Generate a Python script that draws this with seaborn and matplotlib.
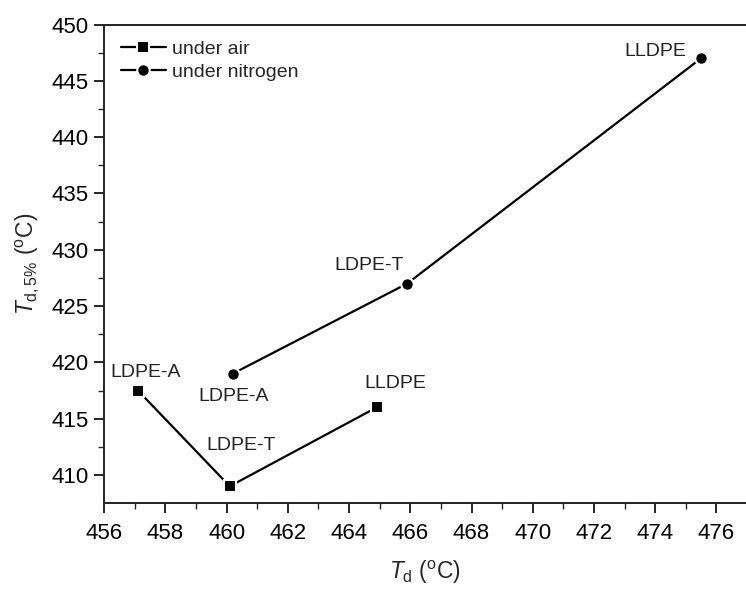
import matplotlib
matplotlib.use("Agg")
import matplotlib.pyplot as plt
import seaborn as sns
import pandas as pd
from matplotlib.ticker import MultipleLocator

samples = ["LDPE-A", "LDPE-T", "LLDPE"]
air_td = [457.1, 460.1, 464.9]
air_td5 = [417.5, 409.0, 416.0]
n2_td = [460.2, 465.9, 475.5]
n2_td5 = [419.0, 427.0, 447.0]

# label positions (data coords)
air_lbl_x = [457.36, 460.46, 465.5]
air_lbl_y = [419.14, 412.6, 418.16]
n2_lbl_x = [460.23, 464.65, 474.0]
n2_lbl_y = [416.95, 428.64, 447.58]

sns.set_theme(style="ticks")
plt.rcParams['font.family'] = ['Liberation Sans', 'DejaVu Sans']
plt.rcParams['mathtext.fontset'] = 'custom'
plt.rcParams['mathtext.rm'] = 'Liberation Sans'
plt.rcParams['mathtext.it'] = 'Liberation Sans:italic'

df = pd.DataFrame({
    "Td": air_td + n2_td,
    "Td5": air_td5 + n2_td5,
    "atm": ["under air"] * 3 + ["under nitrogen"] * 3,
})

fig = plt.figure(figsize=(7.46, 5.91), dpi=100)
ax = fig.add_axes([0.1398, 0.1494, 0.8602, 0.8091])

sns.lineplot(data=df[df.atm == "under air"], x="Td", y="Td5", ax=ax, color="black",
             marker="s", markersize=8.5, markeredgecolor="white", markeredgewidth=1.5,
             linewidth=1.6, label="under air", sort=False)
sns.lineplot(data=df[df.atm == "under nitrogen"], x="Td", y="Td5", ax=ax, color="black",
             marker="o", markersize=9, markeredgecolor="white", markeredgewidth=1.5,
             linewidth=1.6, label="under nitrogen", sort=False)

for s, x, y in zip(samples, air_lbl_x, air_lbl_y):
    ax.text(x, y, s, ha="center", va="center", fontsize=14, color="#222222")
for s, x, y in zip(samples, n2_lbl_x, n2_lbl_y):
    ax.text(x, y, s, ha="center", va="center", fontsize=14, color="#222222")

ax.set_xlim(456, 476.97)
ax.set_ylim(407.54, 450)
ax.xaxis.set_major_locator(MultipleLocator(2))
ax.xaxis.set_minor_locator(MultipleLocator(1))
ax.yaxis.set_major_locator(MultipleLocator(5))
ax.yaxis.set_minor_locator(MultipleLocator(2.5))
ax.tick_params(which="major", direction="out", length=7, width=1.2, labelsize=16,
               colors="black", pad=4)
ax.tick_params(axis="x", which="major", pad=7.5)
ax.tick_params(which="minor", direction="out", length=4, width=1.0)
for sp in ["left", "bottom", "top"]:
    ax.spines[sp].set_linewidth(1.4)
    ax.spines[sp].set_color("#222222")
ax.spines["right"].set_visible(False)

ax.set_xlabel(r"$T_\mathrm{d}$ ($^\mathrm{o}$C)", fontsize=16.5, labelpad=11)
ax.set_ylabel(r"$T_\mathrm{d,5\%}$ ($^\mathrm{o}$C)", fontsize=16.5, labelpad=8)

leg = ax.legend(loc="upper left", frameon=False, fontsize=14, handlelength=2.3,
                handletextpad=0.35, borderaxespad=0.35, borderpad=0.3,
                labelspacing=0.25, bbox_to_anchor=(0.006, 0.993))

fig.savefig("out.png", dpi=100)
